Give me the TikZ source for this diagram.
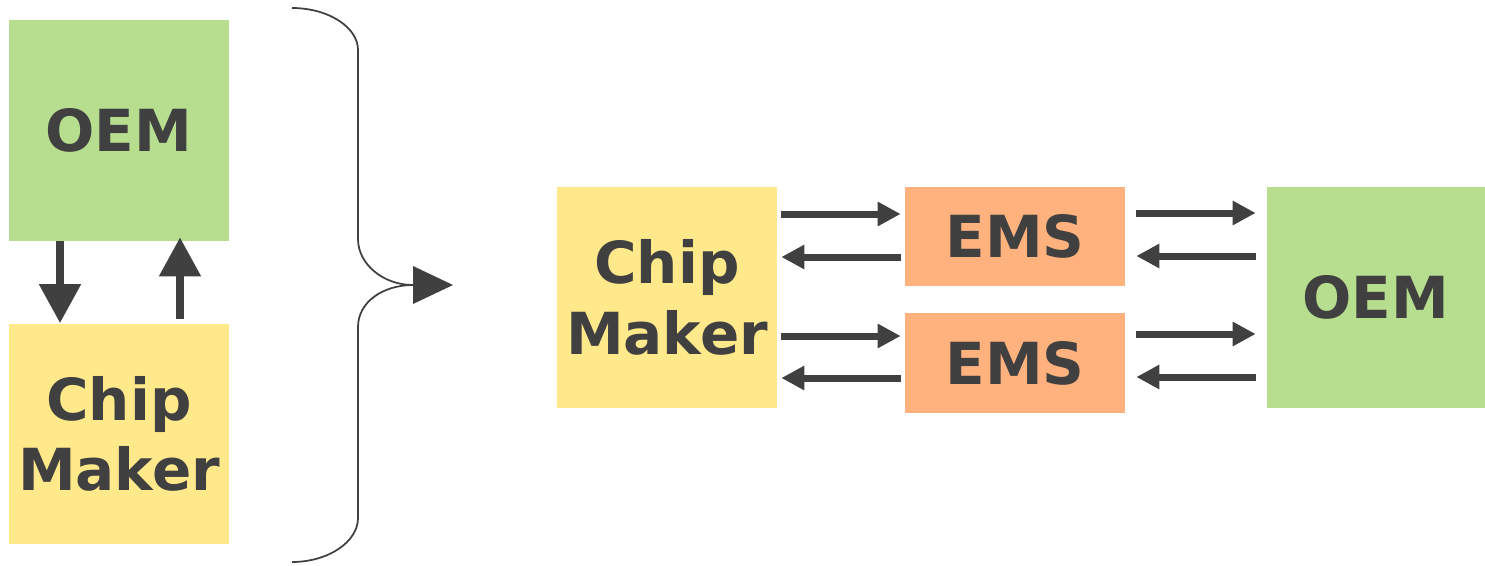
\documentclass[tikz,border=0pt]{standalone}
\usepackage{fontspec}
\setmainfont{DejaVu Sans}
\usepackage{tikz}
\usetikzlibrary{arrows.meta, positioning}
\definecolor{oemgreen}{HTML}{B7DE8E}
\definecolor{chipyellow}{HTML}{FFE98A}
\definecolor{emsorange}{HTML}{FFB27E}
\definecolor{arrowgray}{HTML}{404040}
\tikzset{
  box/.style={fill=#1, text=arrowgray, inner sep=0pt, align=center,
    font=\fontsize{33}{40}\selectfont\bfseries,
    minimum width=4.4cm, minimum height=4.42cm},
  emsbox/.style={box=emsorange, minimum height=2cm},
  varr/.style={line width=0.16cm, arrowgray, -{Triangle[length=0.78cm, width=0.8cm]}},
  harr/.style={line width=0.14cm, arrowgray, -{Triangle[length=0.46cm, width=0.46cm]}},
  gap/.style={shorten <=#1, shorten >=#1}
}

\begin{document}
\begin{tikzpicture}[x=0.02cm, y=-0.02cm]

\useasboundingbox (0,0) rectangle (1485,565);

% left pair
\node[box=oemgreen] (oemL) at (119,130.5) {OEM};
\node[box=chipyellow] (chipL) at (119,434) {Chip\\Maker};

\draw[varr] (oemL.south -| 60,0) -- (chipL.north -| 60,0);
\draw[varr, shorten <=0.08cm, shorten >=-0.08cm] (chipL.north -| 180,0) -- (oemL.south -| 180,0);

% brace
\draw[arrowgray, line width=0.035cm] (292,8) .. controls (328,8) and (358,27) .. (358,50)
  -- (358,239) .. controls (358,264) and (383,285) .. (413,285)
  .. controls (383,285) and (358,302) .. (358,327)
  -- (358,518) .. controls (358,542) and (328,562) .. (292,562);
\fill[arrowgray] (413,266) -- (453,285) -- (413,304) -- cycle;

% right chain
\node[box=chipyellow] (chipR) at (667,297.5) {Chip\\Maker};
\node[emsbox] (emsA) at (1015,236.5) {EMS};
\node[emsbox] (emsB) at (1015,363) {EMS};
\node[box=oemgreen, minimum width=4.36cm] (oemR) at (1376,297.5) {OEM};

\draw[harr, gap=0.08cm] (chipR.east |- 0,214) -- (emsA.west |- 0,214);
\draw[harr, gap=0.08cm] (emsA.west |- 0,257) -- (chipR.east |- 0,257);
\draw[harr, gap=0.08cm] (chipR.east |- 0,336) -- (emsB.west |- 0,336);
\draw[harr, gap=0.08cm] (emsB.west |- 0,378) -- (chipR.east |- 0,378);

\draw[harr, gap=0.22cm] (emsA.east |- 0,213) -- (oemR.west |- 0,213);
\draw[harr, gap=0.22cm] (oemR.west |- 0,256) -- (emsA.east |- 0,256);
\draw[harr, gap=0.22cm] (emsB.east |- 0,334) -- (oemR.west |- 0,334);
\draw[harr, gap=0.22cm] (oemR.west |- 0,377) -- (emsB.east |- 0,377);

\end{tikzpicture}
\end{document}
